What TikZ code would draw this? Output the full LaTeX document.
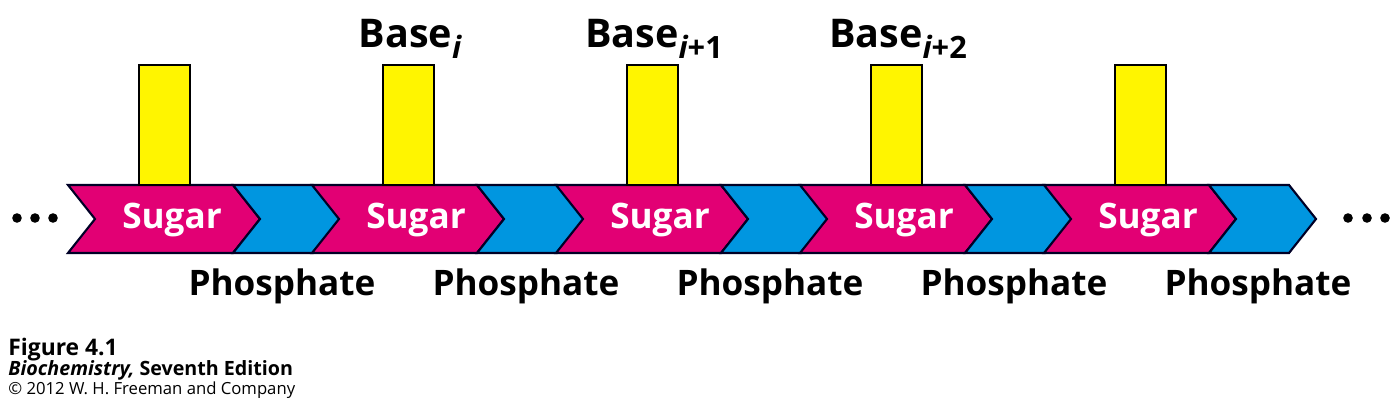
\documentclass[tikz,border=0pt]{standalone}
\usepackage{fontspec}
\setmainfont{Open Sans}
\definecolor{sugarpink}{RGB}{226,0,116}
\definecolor{phosblue}{RGB}{0,150,224}
\definecolor{baseyellow}{RGB}{255,245,0}

\begin{document}
\begin{tikzpicture}[x=0.02cm,y=-0.02cm,
  chev/.style={draw=black!85!blue,line width=1.2pt,line join=miter},
  basebox/.style={draw=black,line width=1.1pt,fill=baseyellow},
  lbl/.style={font=\fontsize{20}{24}\selectfont\bfseries,anchor=base,inner sep=0pt},
  captext/.style={anchor=base west,inner sep=0pt}]
\useasboundingbox (0,0) rectangle (1400,409);
% backbone: sugar and phosphate chevrons
\foreach \i in {0,...,4}{
  \draw[chev,fill=sugarpink] ({68+244*\i},185) -- ++(165,0) -- ++(27,34) -- ++(-27,34) -- ++(-165,0) -- ++(27,-34) -- cycle;
  \draw[chev,fill=phosblue] ({233+244*\i},185) -- ++(80,0) -- ++(27,34) -- ++(-27,34) -- ++(-80,0) -- ++(27,-34) -- cycle;
  \draw[basebox] ({139+244*\i},65) rectangle ++(51,120);
  \node[lbl,text=white] (sugar\i) at ({172+244*\i},228) {Sugar};
  \node[lbl] (phos\i) at ({282+244*\i},295) {Phosphate};
}
% base labels
\foreach \s [count=\i] in {{\itshape i},{\itshape i}+1,{\itshape i}+2}
  \node[lbl,font=\fontsize{22.5}{26}\selectfont\bfseries] (base\i) at ({166+244*\i},48)
    {Base\raisebox{-0.26em}{\fontsize{17.5}{18}\selectfont\bfseries\s}};
% dots at both ends
\foreach \x in {17,35,53,1348,1367,1385}
  \fill (\x,218) circle (4.8);
% caption
\node[captext,font=\fontsize{13}{14}\selectfont\bfseries] (fig) at (8,355) {Figure 4.1};
\node[captext,font=\fontsize{11.2}{12}\selectfont\bfseries] (book) at (8,375) {\textit{Biochemistry,} Seventh Edition};
\node[captext,font=\fontsize{9.5}{12}\selectfont] (copy) at (8,394) {© 2012 W. H. Freeman and Company};
\end{tikzpicture}
\end{document}
